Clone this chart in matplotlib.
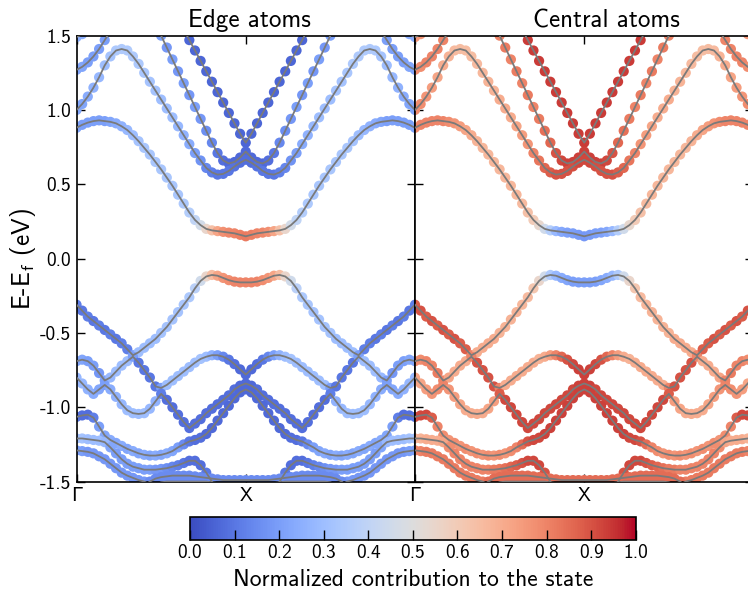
import numpy as np
import matplotlib
matplotlib.use("Agg")
import matplotlib.pyplot as plt

# Computer Modern sans shipped with matplotlib, DejaVu as fallback for Γ
plt.rcParams["font.family"] = ["cmss10", "DejaVu Sans"]
plt.rcParams["mathtext.fontset"] = "custom"
plt.rcParams["mathtext.rm"] = "cmss10"
plt.rcParams["mathtext.it"] = "cmss10"
plt.rcParams["axes.unicode_minus"] = False
plt.rcParams["axes.formatter.use_mathtext"] = False

nan = np.nan

# ---------------------------------------------------------------------------
# band energies (eV) from Γ to X, 31 k-points; path X -> Γ is the mirror
# *_w = contribution of the edge atoms (central atoms = 1 - edge)
# ---------------------------------------------------------------------------
c6_e = [1.49, 1.51, 1.55, 1.60] + [nan] * 27
c6_w = [0.25, 0.25, 0.25, 0.25] + [nan] * 27

c5_e = [1.27, 1.29, 1.32, 1.36, 1.41, 1.47, 1.53, 1.59] + [nan] * 23
c5_w = [0.22, 0.22, 0.20, 0.20, 0.20, 0.20, 0.20, 0.20] + [nan] * 23

c4_e = [nan] * 19 + [1.54, 1.47, 1.40, 1.33, 1.26, 1.19, 1.12, 1.05, 0.98, 0.91, 0.84, 0.78]
c4_w = [nan] * 19 + [0.06] * 12

c3_e = [nan] * 14 + [1.58, 1.50, 1.42, 1.34, 1.26, 1.18, 1.10, 1.02, 0.94, 0.86, 0.78,
                     0.71, 0.66, 0.64, 0.65, 0.68, 0.72]
c3_w = [nan] * 14 + [0.20, 0.20, 0.18, 0.20, 0.18, 0.20, 0.18, 0.20, 0.18, 0.16, 0.14,
                     0.10, 0.08, 0.07, 0.07, 0.07, 0.07]

c2_e = [1.00, 1.04, 1.09, 1.15, 1.22, 1.30, 1.36, 1.40, 1.41, 1.40, 1.36, 1.31, 1.25, 1.19,
        1.13, 1.07, 1.01, 0.95, 0.89, 0.83, 0.77, 0.71, 0.66, 0.61, 0.58, 0.565, 0.57, 0.59,
        0.62, 0.645, 0.665]
c2_w = [0.22, 0.22, 0.24, 0.26, 0.28, 0.30, 0.32, 0.34, 0.35, 0.35, 0.35, 0.34, 0.33, 0.32,
        0.32, 0.30, 0.30, 0.30, 0.28, 0.26, 0.24, 0.20, 0.17, 0.14, 0.12, 0.10, 0.10, 0.10,
        0.09, 0.08, 0.08]

c1_e = [0.88, 0.90, 0.915, 0.925, 0.93, 0.925, 0.92, 0.91, 0.89, 0.865, 0.83, 0.79, 0.745,
        0.70, 0.65, 0.60, 0.545, 0.49, 0.43, 0.37, 0.31, 0.26, 0.225, 0.20, 0.19, 0.185,
        0.18, 0.175, 0.17, 0.16, 0.15]
c1_w = [0.22, 0.20, 0.20, 0.20, 0.20, 0.20, 0.22, 0.24, 0.26, 0.28, 0.30, 0.32, 0.33, 0.33,
        0.33, 0.33, 0.33, 0.33, 0.33, 0.34, 0.36, 0.40, 0.46, 0.55, 0.64, 0.72, 0.77, 0.79,
        0.80, 0.81, 0.82]

v1_e = [-0.31, -0.35, -0.39, -0.42, -0.45, -0.48, -0.51, -0.54, -0.57, -0.61, -0.65, -0.63,
        -0.60, -0.57, -0.54, -0.50, -0.46, -0.41, -0.36, -0.31, -0.26, -0.20, -0.15, -0.12,
        -0.11, -0.115, -0.13, -0.145, -0.155, -0.16, -0.16]
v1_w = [0.12, 0.10, 0.12, 0.10, 0.12, 0.10, 0.12, 0.10, 0.12, 0.12, 0.20, 0.30, 0.30, 0.30,
        0.30, 0.32, 0.32, 0.32, 0.32, 0.33, 0.34, 0.38, 0.45, 0.55, 0.65, 0.72, 0.76, 0.78,
        0.80, 0.80, 0.80]

v2_e = [-0.69, -0.68, -0.69, -0.72, -0.77, -0.82, -0.80, -0.76, -0.72, -0.69, -0.66, -0.70,
        -0.75, -0.80, -0.86, -0.87, -0.85, -0.82, -0.79, -0.76, -0.73, -0.70, -0.675, -0.66,
        -0.65, -0.65, -0.66, -0.68, -0.71, -0.745, -0.78]
v2_w = [0.22, 0.22, 0.20, 0.20, 0.18, 0.20, 0.28, 0.30, 0.30, 0.30, 0.20, 0.10, 0.10, 0.10,
        0.10, 0.20, 0.30, 0.30, 0.30, 0.30, 0.30, 0.30, 0.32, 0.30, 0.26, 0.20, 0.14, 0.10,
        0.08, 0.07, 0.07]

v3_e = [-0.80, -0.84, -0.88, -0.91, -0.88, -0.85, -0.88, -0.93, -0.98, -1.02, -1.04, -1.045,
        -1.04, -1.01, -0.96, -0.91, -0.95, -1.00, -1.05, -1.10, -1.14, -1.11, -1.08, -1.04,
        -1.01, -0.98, -0.95, -0.92, -0.88, -0.855, -0.84]
v3_w = [0.28, 0.28, 0.26, 0.24, 0.22, 0.20, 0.24, 0.26, 0.28, 0.30, 0.30, 0.30, 0.30, 0.28,
        0.26, 0.12, 0.08, 0.08, 0.08, 0.08, 0.08, 0.08, 0.08, 0.08, 0.08, 0.08, 0.08, 0.08,
        0.08, 0.07, 0.07]

v4_e = [-1.065, -1.055, -1.05, -1.07, -1.13, -1.19, -1.22, -1.24, -1.26, -1.28, -1.295, -1.31,
        -1.32, -1.325, -1.325, -1.32, -1.31, -1.295, -1.27, -1.25, -1.23, -1.22, -1.205, -1.18,
        -1.14, -1.09, -1.04, -0.99, -0.94, -0.90, -0.88]
v4_w = [0.10, 0.08, 0.08, 0.12, 0.20, 0.22, 0.24, 0.22, 0.24, 0.22, 0.24, 0.22, 0.24, 0.22,
        0.24, 0.22, 0.24, 0.22, 0.20, 0.15, 0.10, 0.08, 0.08, 0.07, 0.07, 0.07, 0.07, 0.07,
        0.07, 0.07, 0.07]

v5_e = [-1.21, -1.21, -1.215, -1.22, -1.225, -1.235, -1.27, -1.31, -1.35, -1.38, -1.40, -1.41,
        -1.42, -1.42, -1.42, -1.415, -1.41, -1.40, -1.39, -1.375, -1.36, -1.36, -1.39, -1.44,
        -1.50, -1.56, -1.60, -1.62, -1.63, -1.64, -1.64]
v5_w = [0.32, 0.32, 0.30, 0.30, 0.30, 0.28, 0.22, 0.20, 0.20, 0.20, 0.20, 0.20, 0.20, 0.20,
        0.18, 0.18, 0.16, 0.14, 0.12, 0.10, 0.08, 0.08, 0.08, 0.10, 0.12, 0.15, 0.15, 0.15,
        0.15, 0.15, 0.15]

v6_e = [-1.29, -1.295, -1.30, -1.31, -1.33, -1.35, -1.38, -1.41, -1.44, -1.46, -1.475, -1.49,
        -1.50, -1.52, -1.55] + [nan] * 16
v6_w = [0.20, 0.20, 0.18, 0.18, 0.18, 0.18, 0.18, 0.18, 0.18, 0.18, 0.18, 0.18, 0.18, 0.18,
        0.18] + [nan] * 16

v7_e = [nan] * 11 + [-1.58, -1.53, -1.50, -1.48, -1.47, -1.465, -1.46, -1.46, -1.46, -1.46,
                     -1.465, -1.47, -1.475, -1.48, -1.485, -1.49, -1.49, -1.49, -1.49, -1.49]
v7_w = [nan] * 11 + [0.15] * 20

v8_e = [nan] * 13 + [-1.56, -1.52, -1.505, -1.50, -1.50, -1.50, -1.50, -1.50, -1.50, -1.50,
                     -1.50, -1.505, -1.51, -1.52, -1.54, -1.56, -1.58, -1.60]
v8_w = [nan] * 13 + [0.15] * 18

bands_e = [c6_e, c5_e, c4_e, c3_e, c2_e, c1_e, v1_e, v2_e, v3_e, v4_e, v5_e, v6_e, v7_e, v8_e]
bands_w = [c6_w, c5_w, c4_w, c3_w, c2_w, c1_w, v1_w, v2_w, v3_w, v4_w, v5_w, v6_w, v7_w, v8_w]

k_labels = ["Γ", "X", ""]
panel_titles = ["Edge atoms", "Central atoms"]
title_x = [0.51, 0.565]
y_ticks = [-1.5, -1.0, -0.5, 0.0, 0.5, 1.0, 1.5]
cbar_ticks = [0.0, 0.1, 0.2, 0.3, 0.4, 0.5, 0.6, 0.7, 0.8, 0.9, 1.0]


def full_path(half):
    # Γ -> X -> Γ : mirror the half path about X
    half = list(half)
    return np.array(half + half[-2::-1], dtype=float)


n_half = len(c1_e)
k = np.arange(2 * n_half - 1) / (n_half - 1)

fig = plt.figure(figsize=(7.48, 5.93), dpi=100)
ax_l = fig.add_axes([0.1023, 0.1879, 0.4525, 0.7520])
ax_r = fig.add_axes([0.5548, 0.1879, 0.4525, 0.7520])

for i, ax in enumerate([ax_l, ax_r]):
    for e, w in zip(bands_e, bands_w):
        ee = full_path(e)
        ww = full_path(w)
        if i == 1:
            ww = 1.0 - ww
        sc = ax.scatter(k, ee, c=ww, cmap="coolwarm", vmin=0, vmax=1, s=54,
                        linewidths=0, zorder=2)
        ax.plot(k, ee, color="#7a7a7a", lw=1.3, zorder=3)
    ax.set_xlim(0, 2)
    ax.set_ylim(-1.5, 1.5)
    ax.set_xticks([0, 1, 2])
    ax.set_xticklabels(k_labels)
    ax.set_yticks(y_ticks)
    ax.tick_params(direction="in", top=True, right=True, length=6, width=1,
                   labelsize=14, pad=4)
    ax.set_title(panel_titles[i], fontsize=18, pad=6, x=title_x[i])
    for sp in ax.spines.values():
        sp.set_linewidth(1.2)

ax_l.set_yticklabels(["%.1f" % t for t in y_ticks])
ax_r.set_yticklabels([])
ax_l.set_ylabel("E-E$_f$ (eV)", fontsize=18, labelpad=1)

cax = fig.add_axes([0.254, 0.0894, 0.596, 0.0393])
cb = fig.colorbar(sc, cax=cax, orientation="horizontal", ticks=cbar_ticks)
cb.ax.set_xticklabels(["%.1f" % t for t in cbar_ticks])
cb.ax.tick_params(direction="in", length=7, width=1, labelsize=14, pad=3)
cb.outline.set_linewidth(1.2)
cb.set_label("Normalized contribution to the state", fontsize=17, labelpad=5)

fig.savefig("out.png", dpi=100)
